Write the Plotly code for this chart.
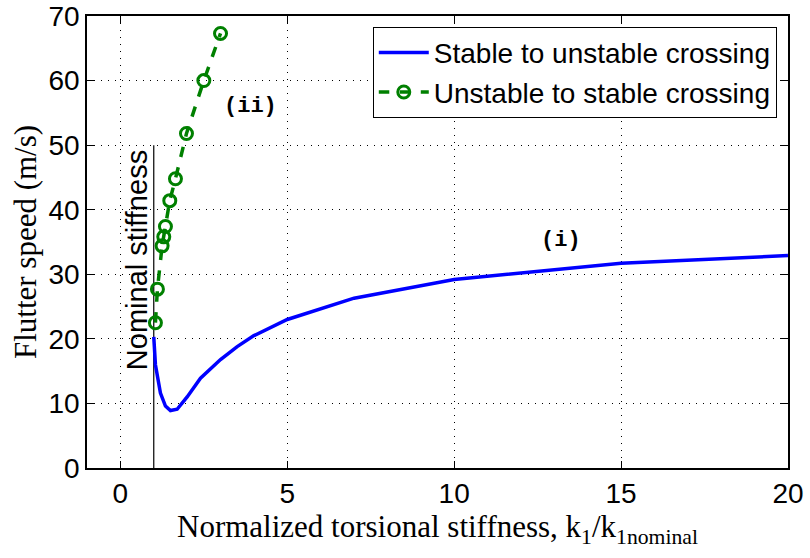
import plotly.graph_objects as go

# Stable to unstable crossing (solid blue)
k_stable = [1.0, 1.05, 1.2, 1.35, 1.5, 1.7, 2.0, 2.4, 3.0, 3.5, 4.0, 5.0, 7.0, 10.0, 15.0, 20.0]
v_stable = [20.3, 16.0, 11.6, 9.6, 8.9, 9.1, 11.0, 13.9, 16.8, 18.8, 20.5, 23.0, 26.3, 29.2, 31.7, 32.9]

# Unstable to stable crossing (dashed green with circles)
k_unstable = [1.05, 1.11, 1.25, 1.3, 1.35, 1.48, 1.65, 1.98, 2.5, 3.0]
v_unstable = [22.5, 27.7, 34.4, 35.8, 37.4, 41.4, 44.8, 51.8, 60.0, 67.3]

# Nominal stiffness marker line
k_nominal = [1.0, 1.0]
v_nominal = [0, 50]

x_ticks = [0, 5, 10, 15, 20]
y_ticks = [0, 10, 20, 30, 40, 50, 60, 70]

fig = go.Figure()
fig.add_trace(go.Scatter(x=k_nominal, y=v_nominal, mode="lines",
                         line=dict(color="black", width=1.2), showlegend=False, hoverinfo="skip"))
fig.add_trace(go.Scatter(x=k_stable, y=v_stable, mode="lines",
                         line=dict(color="#0000FF", width=3.5), name="Stable to unstable crossing"))
fig.add_trace(go.Scatter(x=k_unstable, y=v_unstable, mode="lines+markers",
                         line=dict(color="#008000", width=3.5, dash="dash"),
                         marker=dict(symbol="circle-open", size=12, color="#008000", line=dict(width=3)),
                         name="Unstable to stable crossing"))

fig.add_annotation(x=0.5, y=32.2, text="Nominal stiffness", textangle=-90, showarrow=False,
                   font=dict(family="Arial, Liberation Sans", size=29, color="black"))
fig.add_annotation(x=3.9, y=56, text="<b>(ii)</b>", showarrow=False,
                   font=dict(family="Liberation Mono, Courier New", size=22, color="black"))
fig.add_annotation(x=13.2, y=35.3, text="<b>(i)</b>", showarrow=False,
                   font=dict(family="Liberation Mono, Courier New", size=22, color="black"))

axis_common = dict(showline=True, linecolor="black", linewidth=1.5, mirror="ticks",
                   ticks="inside", ticklen=7, tickcolor="black",
                   showgrid=True, gridcolor="black", griddash="1px,6px", gridwidth=1,
                   zeroline=False, automargin=False,
                   tickfont=dict(family="Arial, Liberation Sans", size=28, color="black"))

fig.update_layout(
    width=810, height=558,
    margin=dict(l=87, r=22, t=16, b=90),
    plot_bgcolor="white", paper_bgcolor="white",
    xaxis=dict(range=[-1, 20], tickvals=x_ticks,
               title=dict(text="Normalized torsional stiffness, k<sub>1</sub>/k<sub>1nominal</sub>",
                          font=dict(family="Liberation Serif, Times New Roman", size=31, color="black"),
                          standoff=0),
               **axis_common),
    yaxis=dict(range=[0, 70], tickvals=y_ticks,
               title=dict(text="Flutter speed (m/s)",
                          font=dict(family="Liberation Serif, Times New Roman", size=31, color="black"),
                          standoff=3),
               **axis_common),
    legend=dict(x=0.984, y=0.976, xanchor="right", yanchor="top",
                bgcolor="white", bordercolor="black", borderwidth=1,
                font=dict(family="Arial, Liberation Sans", size=28, color="black"),
                tracegroupgap=0, itemwidth=50),
    showlegend=True,
)

fig.write_html("out.html")
